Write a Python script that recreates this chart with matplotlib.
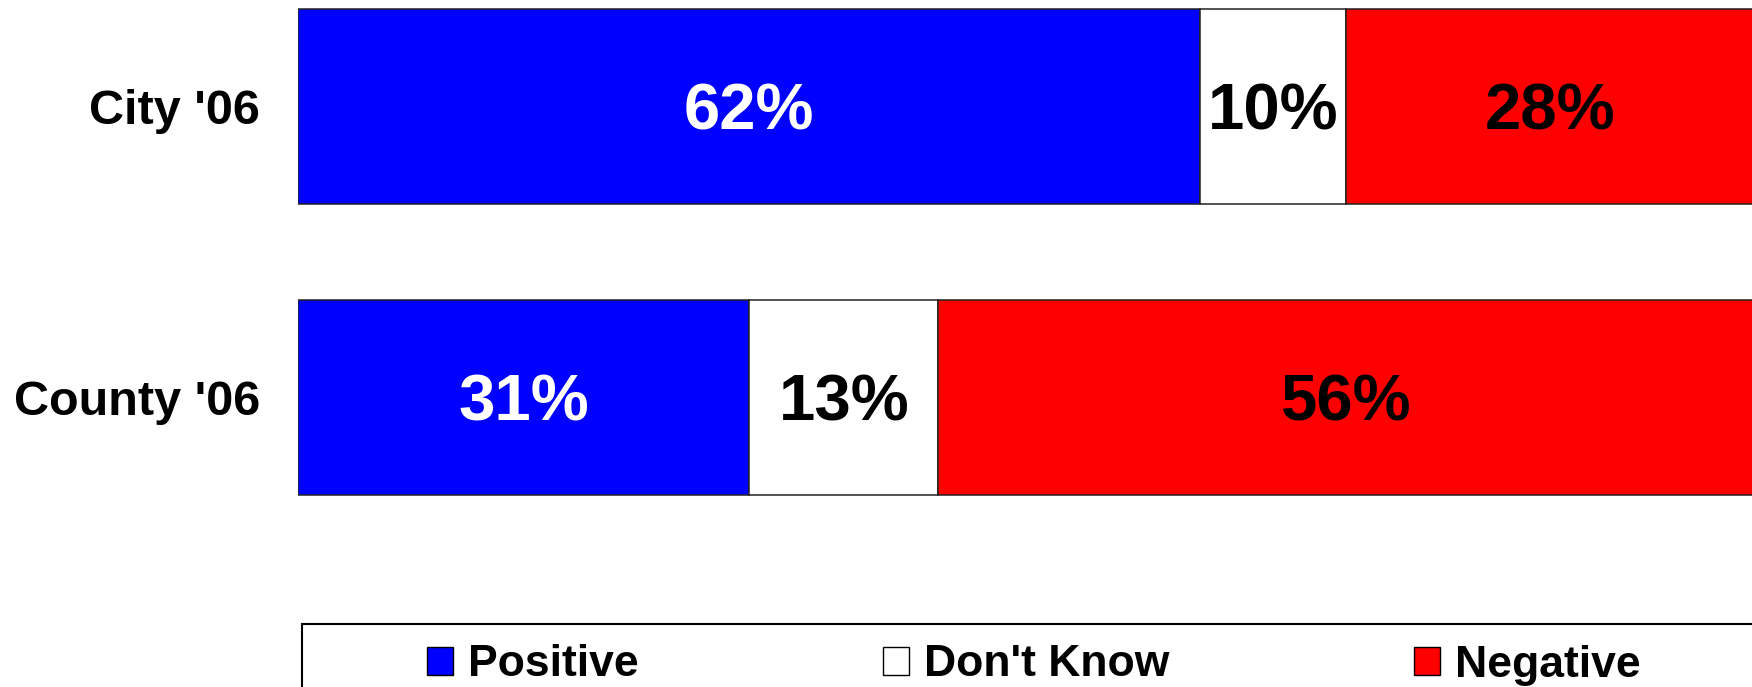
import matplotlib.pyplot as plt
from matplotlib.patches import Patch, Rectangle

plt.rcParams['font.family'] = ['Liberation Sans', 'DejaVu Sans']
plt.rcParams['font.weight'] = 'bold'

categories = ["City '06", "County '06"]
series_names = ['Positive', "Don't Know", 'Negative']
positive = [62, 31]
dont_know = [10, 13]
negative = [28, 56]

colors = ['#0000ff', '#ffffff', '#ff0000']
text_colors = ['white', 'black', 'black']

W, H = 1752, 687
fig = plt.figure(figsize=(W / 100, H / 100), dpi=100)

# axes runs from the left edge of the bars to the right side of the picture
ax = fig.add_axes([298 / W, 0, 1 - 298 / W, 1])

pos = list(range(len(categories)))
bar_h = 0.671

left = [0] * len(categories)
for name, vals, col, tcol in zip(series_names, [positive, dont_know, negative], colors, text_colors):
    bars = ax.barh(pos, vals, left=left, height=bar_h, color=col,
                   edgecolor='#222222', linewidth=1.1, label=name)
    for b, v in zip(bars, vals):
        # baseline sits a bit below the bar middle so the digits look centred
        ax.annotate(f'{v}%', (b.get_x() + b.get_width() / 2, b.get_y() + b.get_height() / 2),
                    xytext=(0, -16.8), textcoords='offset points',
                    ha='center', va='baseline', color=tcol,
                    fontsize=47, fontweight='bold')
    left = [l + v for l, v in zip(left, vals)]

ax.set_xlim(0, 99.9)
ax.set_ylim(1.998, -0.3666)
ax.set_yticks(pos)
ax.set_yticklabels(categories, fontsize=35, fontweight='bold')
ax.tick_params(axis='y', length=0, pad=27.5)
ax.set_xticks([])
for s in ax.spines.values():
    s.set_visible(False)

# legend frame runs off the bottom and right of the picture
fig.patches.append(Rectangle((302 / W, -0.2), 1.0, (H - 624) / H + 0.2,
                             transform=fig.transFigure, facecolor='white',
                             edgecolor='black', linewidth=1.5, clip_on=False))

handles = [Patch(facecolor=c, edgecolor='black', linewidth=1) for c in colors]
fig.legend(handles, series_names, loc='center left',
           bbox_to_anchor=(427 / W, 1 - 665 / H), ncol=3, frameon=False,
           prop={'size': 32, 'weight': 'bold'}, handlelength=0.585,
           handleheight=0.6, handletextpad=0.34, columnspacing=5.5,
           borderpad=0, borderaxespad=0)

fig.savefig('out.png', dpi=100)
